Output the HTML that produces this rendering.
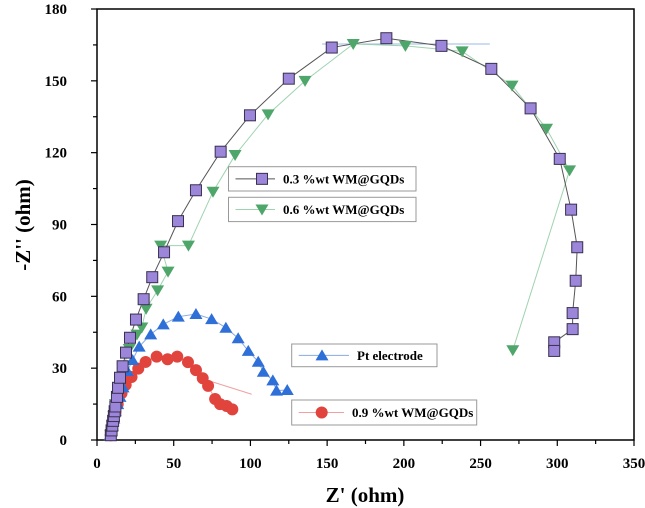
<!DOCTYPE html>
<html><head><meta charset="utf-8"><style>
html,body{margin:0;padding:0;background:#fff;}
svg{display:block;font-family:"Liberation Serif",serif;}
</style></head><body>
<svg id="chart" width="645" height="508" viewBox="0 0 645 508">
<g id="axes"></g>
<g id="series"></g>
<g id="legend"></g>
</svg>
<script>
const xTicks=[0,50,100,150,200,250,300,350];
const yTicks=[0,30,60,90,120,150,180];
const s03X=[9,9.5,10,10.5,11,11.5,12,13,13.7,15,16.7,18.9,21.5,25.4,30.4,36,43.7,52.8,64.5,80.6,99.7,125,153,188.6,224.5,257,282.6,301.6,309,313,312,310,310,298,298];
const s03Y=[2,4,6,8,10,12,14,18,21.8,26,30.8,36.5,42.7,50.3,58.8,68,78.4,91.4,104.3,120.4,135.6,150.9,163.9,167.8,164.6,155,138.5,117.4,96.2,80.5,66.5,53,46.3,40.8,37.2];
const s06X=[9,10,11,12,14,17,21,26,29.2,32,39.5,46.3,41.5,59.6,75.6,90,111.5,135.6,167,201,238,270.5,293,308,271];
const s06Y=[2,6,10,15,22,30,38,44,47,54.8,62.5,70.3,81.2,81.2,103.7,119,136,150,165.4,164.6,162.3,148,130,112.6,37.5];
const ptX=[8.5,9,10,11,12,13.5,15,17,19.8,23.2,27.5,35,43.2,53,64.5,74.7,84,92,98.6,105.1,108.4,114.6,117,124];
const ptY=[2,4,6,9,12,15,18,22,28.8,33.4,39,44.1,48.3,51.5,52.6,50.5,46.9,42.5,37.2,32.7,28.5,24.9,20.6,20.9];
const s09X=[9,9.5,10,11,12,13.5,16,18.7,22.5,26.9,31.7,38.9,46,52.3,59.3,64.5,68.9,72.4,77,80.2,84.5,88.2];
const s09Y=[2,4,6,8,11,15,19.5,23,26.3,29.8,32.6,34.8,33.7,34.8,32.5,29.2,25.8,22.6,17.1,15,14.2,12.8];
const strayRedX=[73.7,100.8];
const strayRedY=[24.6,19.1];
const strayBlueX=[146.7,256];
const strayBlueY=[165.4,165.4];

const X0=97,X1=634,Y0=440,Y1=9;
const xs=v=>X0+v*(X1-X0)/350;
const ys=v=>Y0-v*(Y0-Y1)/180;
const NS="http://www.w3.org/2000/svg";
function mk(tag,attrs,parent){const e=document.createElementNS(NS,tag);for(const k in attrs)e.setAttribute(k,attrs[k]);parent.appendChild(e);return e;}
const axes=document.getElementById('axes'),ser=document.getElementById('series'),leg=document.getElementById('legend');

let f=mk('rect',{x:X0,y:Y1,width:X1-X0,height:Y0-Y1,fill:'none',stroke:'#000','stroke-width':1.5},axes);


for(let v=0;v<=350;v+=25){
  const t=mk('line',{x1:xs(v),x2:xs(v),y1:Y0,y2:Y0+(v%50==0?6:4),stroke:'#000','stroke-width':1.2},axes);
  
  
}
for(let v=0;v<=180;v+=15){
  const t=mk('line',{x1:X0,x2:X0-(v%30==0?6:4),y1:ys(v),y2:ys(v),stroke:'#000','stroke-width':1.2},axes);
  
  
}
xTicks.forEach(v=>{const t=mk('text',{x:xs(v),y:468,'text-anchor':'middle','font-size':15,'font-weight':'bold'},axes);t.textContent=v;
  
  });
yTicks.forEach(v=>{const t=mk('text',{x:67,y:ys(v)+5,'text-anchor':'end','font-size':15,'font-weight':'bold'},axes);t.textContent=v;
  
  });
let xt=mk('text',{x:365,y:502,'text-anchor':'middle','font-size':21,'font-weight':'bold'},axes);xt.textContent="Z' (ohm)";


let yt=mk('text',{x:0,y:0,'text-anchor':'middle','font-size':21,'font-weight':'bold',transform:'translate(30,225) rotate(-90)'},axes);yt.textContent="-Z'' (ohm)";



function line(X,Y,col,w,name){const p=mk('polyline',{points:X.map((x,i)=>xs(x)+','+ys(Y[i])).join(' '),fill:'none',stroke:col,'stroke-width':w},ser);
  
  }
function marker(type,cx,cy,col,g,name){let e;
  if(type=='sq')e=mk('rect',{x:cx-5.5,y:cy-5.5,width:11,height:11,fill:'#9b86d9',stroke:'#3a3050','stroke-width':1},g);
  else if(type=='dn')e=mk('polygon',{points:`${cx-6.5},${cy-5} ${cx+6.5},${cy-5} ${cx},${cy+6}`,fill:'#4fa66a'},g);
  else if(type=='up')e=mk('polygon',{points:`${cx-6.5},${cy+5} ${cx+6.5},${cy+5} ${cx},${cy-6}`,fill:'#2f6fd8'},g);
  else e=mk('circle',{cx:cx,cy:cy,r:6,fill:'#e0443c'},g);
  
  }
line(strayBlueX,strayBlueY,'#9db8e6',1,'stray-blue-line');
line(strayRedX,strayRedY,'#f0a0a0',1,'stray-red-line');
line(s09X,s09Y,'#f0a0a0',1,'line-0-9wt');
line(ptX,ptY,'#8aaae0',1,'line-pt');
line(s06X,s06Y,'#9fd3b0',1,'line-0-6wt');
line(s03X,s03Y,'#555',1,'line-0-3wt');
s09X.forEach((x,i)=>marker('c',xs(x),ys(s09Y[i]),0,ser,'point-0-9wt'));
ptX.forEach((x,i)=>marker('up',xs(x),ys(ptY[i]),0,ser,'point-pt'));
s06X.forEach((x,i)=>marker('dn',xs(x),ys(s06Y[i]),0,ser,'point-0-6wt'));
s03X.forEach((x,i)=>marker('sq',xs(x),ys(s03Y[i]),0,ser,'point-0-3wt'));

const legends=[
 {x:228.5,y:166.7,w:187.5,h:24.3,type:'sq',lc:'#555',mx:262,tx:283,label:'0.3 %wt WM@GQDs',name:'legend-entry-0-3wt'},
 {x:228.5,y:197.3,w:187.5,h:24.3,type:'dn',lc:'#9fd3b0',mx:262,tx:283,label:'0.6 %wt WM@GQDs',name:'legend-entry-0-6wt'},
 {x:291.7,y:344,w:145.3,h:22.7,type:'up',lc:'#8aaae0',mx:322,tx:357,label:'Pt electrode',name:'legend-entry-pt'},
 {x:291.7,y:400,w:185,h:25,type:'c',lc:'#f0a0a0',mx:321.7,tx:352,label:'0.9 %wt WM@GQDs',name:'legend-entry-0-9wt'}];
legends.forEach(L=>{
  const g=mk('g',{},leg);
  
  
  mk('rect',{x:L.x,y:L.y,width:L.w,height:L.h,fill:'#fff',stroke:'#999','stroke-width':1},g);
  const cy=L.y+L.h/2;
  mk('line',{x1:L.x+7,x2:L.tx-8,y1:cy,y2:cy,stroke:L.lc,'stroke-width':1},g);
  marker(L.type,L.mx,cy,0,g,'legend-marker');
  const t=mk('text',{x:L.tx,y:cy+4.5,'font-size':13,'font-weight':'bold'},g);t.textContent=L.label;
});
</script>
</body></html>
